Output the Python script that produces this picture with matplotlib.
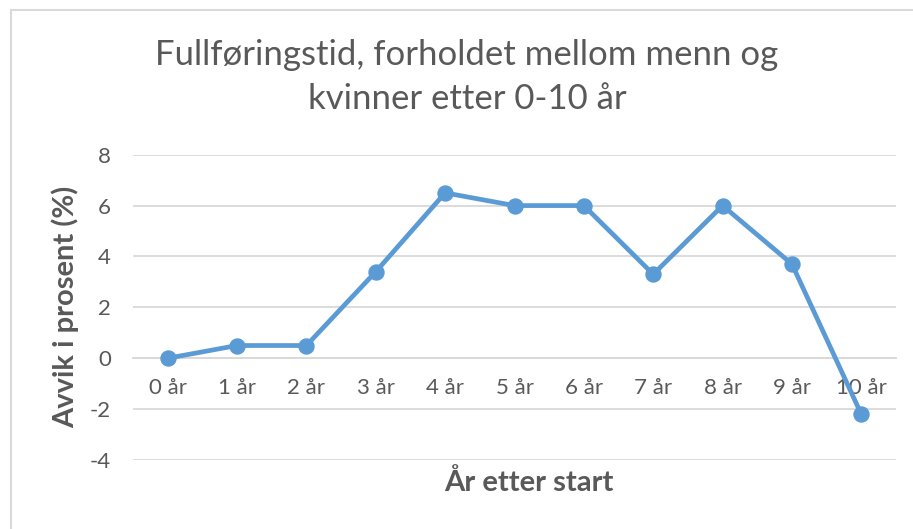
import matplotlib.pyplot as plt
from matplotlib.patches import Rectangle

# data
kategorier = ["0 år", "1 år", "2 år", "3 år", "4 år", "5 år",
              "6 år", "7 år", "8 år", "9 år", "10 år"]
avvik = [0.0, 0.5, 0.5, 3.4, 6.5, 6.0, 6.0, 3.3, 6.0, 3.7, -2.2]
y_ticks = [-4, -2, 0, 2, 4, 6, 8]

BLA = "#5B9BD5"
GRA = "#595959"
GRID = "#D9D9D9"

plt.rcParams["font.family"] = ["Lato", "DejaVu Sans"]

W, H = 913, 529
fig = plt.figure(figsize=(W / 100, H / 100), dpi=100)

# chart area border (Excel style)
fig.patches.append(Rectangle((11 / W, -0.1), 1.2, 1 - 10 / H + 0.1,
                             transform=fig.transFigure, fill=False,
                             edgecolor=GRID, linewidth=1.5))

ax = fig.add_axes([133 / W, 1 - 460 / H, 763 / W, (460 - 154.7) / H])
x = list(range(len(kategorier)))
ax.plot(x, avvik, color=BLA, linewidth=3.4, marker="o", markersize=10.8,
        solid_capstyle="round", zorder=3)

ax.set_xlim(-0.5, len(kategorier) - 0.5)
ax.set_ylim(-4, 8)
ax.set_yticks(y_ticks)
ax.set_yticklabels([str(v) for v in y_ticks])
ax.set_xticks(x)
ax.set_xticklabels(kategorier)
ax.grid(axis="y", color=GRID, linewidth=1.3)
ax.set_axisbelow(True)
for s in ["top", "right", "left"]:
    ax.spines[s].set_visible(False)
ax.spines["bottom"].set_position(("data", 0))
ax.spines["bottom"].set_color(GRID)
ax.spines["bottom"].set_linewidth(1.3)
ax.tick_params(axis="x", length=0, pad=14, labelsize=16, labelcolor=GRA)
ax.tick_params(axis="y", length=0, pad=16, labelsize=16, labelcolor=GRA)

fig.text(467 / W, 1 - 77 / H,
         "Fullføringstid, forholdet mellom menn og\nkvinner etter 0-10 år",
         ha="center", va="center", fontsize=25, color=GRA,
         linespacing=1.45)
fig.text(65 / W, 1 - 307 / H, "Avvik i prosent (%)", rotation=90,
         ha="center", va="center", fontsize=21, fontweight="bold", color=GRA)
fig.text(529 / W, 1 - 483 / H, "År etter start", ha="center", va="center",
         fontsize=21, fontweight="bold", color=GRA)

fig.savefig("out.png", dpi=100)
